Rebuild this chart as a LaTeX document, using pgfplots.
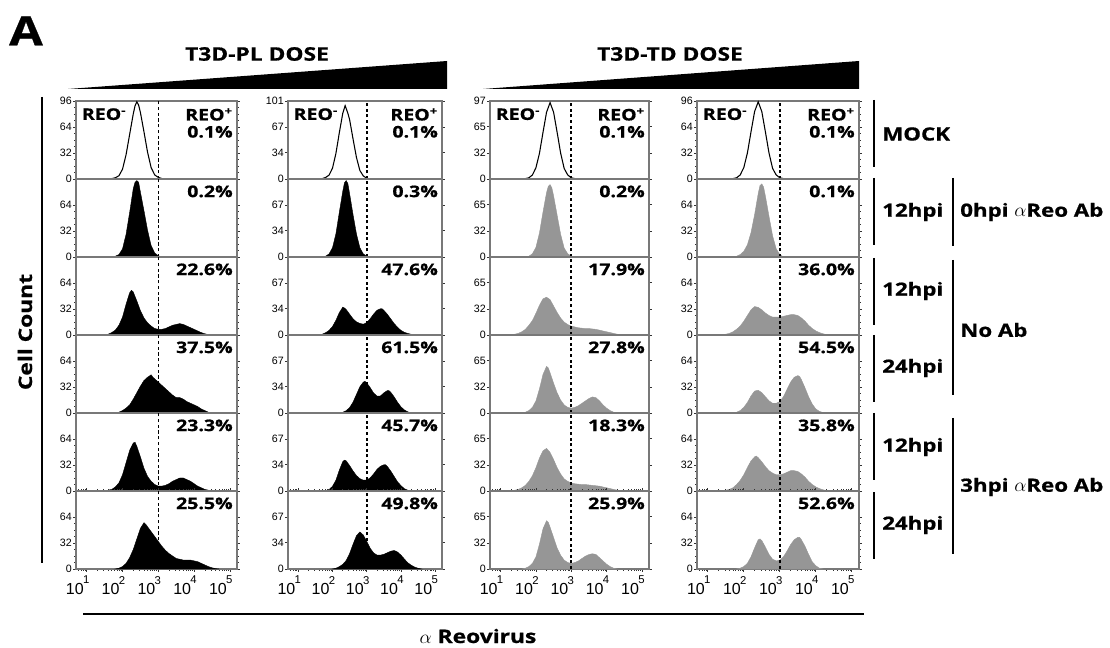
\documentclass[border=0pt]{standalone}
\usepackage{fontspec}
\setmainfont{Open Sans}[FakeStretch=1.22, BoldFeatures={FakeBold=0.8}]
\newfontfamily\arial{Liberation Sans}
\usepackage{pgfplots}
\pgfplotsset{compat=1.18}
\definecolor{hgray}{RGB}{150,150,150}
\definecolor{frm}{RGB}{120,120,120}
\newcommand{\xtl}[1]{\arial\mdseries\fontsize{12}{12}\selectfont 10\kern-0.5pt\raisebox{8pt}{\fontsize{8.5}{8.5}\selectfont #1}}
\pgfplotsset{
 panel/.style={scale only axis, height=58.5pt, xmin=0.7, xmax=5.2, ymin=0, anchor=south west,
   axis line style={draw=frm, line width=0.8pt},
   xtick=\empty, tick align=outside, major tick length=2.2pt, minor tick length=1.2pt,
   tick style={black!80, line width=0.5pt},
   minor y tick num=3,
   yticklabel style={font=\arial\mdseries\fontsize{8}{8}\selectfont, text=black, inner sep=0.8pt},
   /pgf/number format/assume math mode=true},
 bottomrow/.style={xtick={1,2,3,4,5}, xticklabels={\xtl{1},\xtl{2},\xtl{3},\xtl{4},\xtl{5}},
   minor xtick={0.778,0.845,0.903,0.954,1.301,1.477,1.602,1.699,1.778,1.845,1.903,1.954,2.301,2.477,2.602,2.699,2.778,2.845,2.903,2.954,3.301,3.477,3.602,3.699,3.778,3.845,3.903,3.954,4.301,4.477,4.602,4.699,4.778,4.845,4.903,4.954},
   xticklabel style={anchor=north east, xshift=2.2pt, yshift=-3pt, inner sep=0pt}},
 blk/.style={fill=black, draw=black, line width=0.3pt},
 gry/.style={fill=hgray, draw=hgray, line width=0.3pt},
 outl/.style={draw=black, line width=0.8pt},
 gateA/.style={black, line width=0.5pt, dash pattern=on 2.5pt off 1.8pt},
 gateB/.style={black, line width=1.2pt, dash pattern=on 2.2pt off 2pt},
}
\tikzset{pct/.style={anchor=north east, inner sep=0pt, font=\fontsize{12}{12}\selectfont\bfseries}}
\newcommand{\panel}[7]{%
 \begin{axis}[panel, at={({#1*0.75pt},{-#2*0.75pt})}, width=#3, ymax=#4, #5]
 #7
 \addplot[#6] coordinates {(3,0) (3,#4)};
 \end{axis}}
\newcommand{\reo}{%
 \node[anchor=north west, inner sep=0pt, font=\fontsize{12}{12}\selectfont\bfseries] at (rel axis cs:0.035,0.91) {REO\textsuperscript{-}};
 \node[anchor=north east, inner sep=0pt, align=right, font=\fontsize{12}{12.8}\selectfont\bfseries] at (rel axis cs:0.975,0.91) {REO\textsuperscript{+}\\0.1\%};}
\newcommand{\pc}[1]{\node[pct] at (rel axis cs:0.975,0.92) {#1};}

\begin{document}
\begin{tikzpicture}[x=0.75pt,y=-0.75pt,font=\bfseries]
\path[use as bounding box] (0,0) rectangle (1110,648);

% ---------- column 1 ----------
\panel{76}{179}{120.75pt}{96}{ytick={0,32,64,96}}{gateA}{%
 \addplot[outl] coordinates {(1.6,0) (1.7,0.5) (1.8,1.5) (1.9,4) (2.0,12) (2.1,30) (2.2,55) (2.3,80) (2.35,90) (2.4,95) (2.45,91) (2.5,82) (2.6,58) (2.7,33) (2.8,14) (2.9,5) (3.0,2) (3.1,0.5) (3.2,0)};
 \reo}
\panel{76}{257}{120.75pt}{96}{ytick={0,32,64}}{gateA}{%
 \addplot[blk] coordinates {(1.7,0) (1.8,1) (1.9,3) (2.0,10) (2.1,28) (2.2,55) (2.3,84) (2.35,92) (2.4,94) (2.45,92) (2.5,80) (2.6,57) (2.7,33) (2.8,14) (2.9,5) (3.0,1.5) (3.1,0)} \closedcycle;
 \pc{0.2\%}}
\panel{76}{335}{120.75pt}{96}{ytick={0,32,64}}{gateA}{%
 \addplot[blk] coordinates {(1.5,0) (1.6,1) (1.7,3) (1.8,6) (1.9,12) (2.0,22) (2.1,38) (2.2,52) (2.25,55) (2.3,53) (2.4,42) (2.5,30) (2.6,21) (2.7,15) (2.8,11) (2.9,8) (3.0,7) (3.1,7) (3.2,8) (3.3,10) (3.4,12) (3.5,13) (3.6,14) (3.7,13) (3.8,11) (3.9,9) (4.0,7) (4.1,5) (4.2,3) (4.3,1.5) (4.4,0.5) (4.5,0)} \closedcycle;
 \pc{22.6\%}}
\panel{76}{413}{120.75pt}{96}{ytick={0,32,64}}{gateA}{%
 \addplot[blk] coordinates {(1.8,0) (1.9,1) (2.0,3) (2.1,6) (2.2,10) (2.3,17) (2.4,25) (2.5,33) (2.6,40) (2.7,44) (2.8,47) (2.85,44) (2.9,42) (3.0,38) (3.1,34) (3.2,30) (3.3,26) (3.4,22) (3.5,19) (3.6,19) (3.7,17) (3.8,14) (3.9,12) (4.0,10) (4.1,8) (4.2,5) (4.3,3) (4.4,1) (4.5,0)} \closedcycle;
 \pc{37.5\%}}
\panel{76}{491}{120.75pt}{96}{ytick={0,32,64}}{gateA}{%
 \addplot[blk] coordinates {(1.5,0) (1.6,1) (1.7,2) (1.8,5) (1.9,10) (2.0,20) (2.1,35) (2.2,50) (2.3,59) (2.35,60) (2.4,55) (2.5,42) (2.6,28) (2.7,18) (2.8,12) (2.9,8) (3.0,6) (3.1,6) (3.2,7) (3.3,9) (3.4,12) (3.5,14) (3.6,16) (3.7,16) (3.8,14) (3.9,12) (4.0,9) (4.1,6) (4.2,4) (4.3,2) (4.4,1) (4.5,0)} \closedcycle;
 \pc{23.3\%}}
\panel{76}{569}{120.75pt}{96}{ytick={0,32,64},bottomrow}{gateA}{%
 \addplot[blk] coordinates {(1.8,0) (1.9,1) (2.0,3) (2.1,7) (2.2,14) (2.3,24) (2.4,37) (2.5,50) (2.6,57) (2.65,55) (2.7,52) (2.8,46) (2.9,40) (3.0,34) (3.1,28) (3.2,23) (3.3,19) (3.4,16) (3.5,13) (3.6,12) (3.7,11) (3.8,11) (3.9,11) (4.0,10) (4.1,9) (4.2,7) (4.3,5) (4.4,3) (4.5,1.5) (4.6,0.5) (4.7,0)} \closedcycle;
 \pc{25.5\%}}

% ---------- column 2 ----------
\panel{288}{179}{115.5pt}{101}{ytick={0,34,67,101}}{gateB}{%
 \addplot[outl] coordinates {(1.6,0) (1.7,0.5) (1.8,2) (1.9,5) (2.0,14) (2.1,33) (2.2,60) (2.3,85) (2.37,95) (2.45,85) (2.5,77) (2.6,52) (2.7,28) (2.8,11) (2.9,4) (3.0,1) (3.1,0)};
 \reo}
\panel{288}{257}{115.5pt}{101}{ytick={0,34,67}}{gateB}{%
 \addplot[blk] coordinates {(1.7,0) (1.8,1) (1.9,4) (2.0,12) (2.1,30) (2.2,58) (2.3,85) (2.35,96) (2.4,99) (2.45,95) (2.5,82) (2.6,55) (2.7,30) (2.8,12) (2.9,4) (3.0,1) (3.1,0)} \closedcycle;
 \pc{0.3\%}}
\panel{288}{335}{115.5pt}{101}{ytick={0,34,67}}{gateB}{%
 \addplot[blk] coordinates {(1.6,0) (1.7,1) (1.8,3) (1.9,6) (2.0,11) (2.1,19) (2.2,29) (2.3,36) (2.35,35) (2.4,33) (2.5,27) (2.6,21) (2.7,17) (2.8,15) (2.9,14) (3.0,16) (3.1,21) (3.2,27) (3.3,32) (3.4,34) (3.45,34) (3.5,32) (3.6,27) (3.7,21) (3.8,15) (3.9,10) (4.0,6) (4.1,3.5) (4.2,2) (4.3,1) (4.4,0)} \closedcycle;
 \pc{47.6\%}}
\panel{288}{413}{115.5pt}{101}{ytick={0,34,67}}{gateB}{%
 \addplot[blk] coordinates {(2.2,0) (2.3,1) (2.4,3) (2.5,7) (2.6,14) (2.7,24) (2.8,34) (2.9,40) (2.95,41) (3.0,39) (3.1,33) (3.2,26) (3.3,22) (3.4,22) (3.5,26) (3.6,29) (3.65,29) (3.7,27) (3.8,21) (3.9,14) (4.0,8) (4.1,4) (4.2,1.5) (4.3,0)} \closedcycle;
 \pc{61.5\%}}
\panel{288}{491}{115.5pt}{101}{ytick={0,34,67}}{gateB}{%
 \addplot[blk] coordinates {(1.8,0) (1.9,2) (2.0,6) (2.1,14) (2.2,27) (2.3,38) (2.35,40) (2.4,39) (2.5,33) (2.6,26) (2.7,20) (2.8,16) (2.9,14) (3.0,14) (3.1,17) (3.2,22) (3.3,28) (3.4,32) (3.5,34) (3.55,34) (3.6,32) (3.7,26) (3.8,19) (3.9,12) (4.0,7) (4.1,3) (4.2,1) (4.3,0)} \closedcycle;
 \pc{45.7\%}}
\panel{288}{569}{115.5pt}{101}{ytick={0,34,67},bottomrow}{gateB}{%
 \addplot[blk] coordinates {(2.0,0) (2.1,1) (2.2,3) (2.3,6) (2.4,11) (2.5,20) (2.6,32) (2.7,43) (2.8,48) (2.85,46) (2.9,44) (3.0,36) (3.1,27) (3.2,21) (3.3,18) (3.4,18) (3.5,19) (3.6,21) (3.7,23) (3.8,24) (3.9,22) (4.0,18) (4.1,13) (4.2,8) (4.3,5) (4.4,2.5) (4.5,1) (4.6,0)} \closedcycle;
 \pc{49.8\%}}

% ---------- column 3 ----------
\panel{490}{179}{119.25pt}{97}{ytick={0,32,65,97}}{gateB}{%
 \addplot[outl] coordinates {(1.6,0) (1.7,0.5) (1.8,1.5) (1.9,5) (2.0,14) (2.1,32) (2.2,58) (2.3,83) (2.4,95) (2.5,83) (2.6,58) (2.7,32) (2.8,13) (2.9,5) (3.0,1.5) (3.1,0.5) (3.2,0)};
 \reo}
\panel{490}{257}{119.25pt}{97}{ytick={0,32,65}}{gateB}{%
 \addplot[gry] coordinates {(1.7,0) (1.8,1) (1.9,4) (2.0,12) (2.1,30) (2.2,56) (2.3,80) (2.35,88) (2.4,90) (2.45,86) (2.5,76) (2.6,52) (2.7,28) (2.8,11) (2.9,4) (3.0,1) (3.1,0)} \closedcycle;
 \pc{0.2\%}}
\panel{490}{335}{119.25pt}{97}{ytick={0,32,65}}{gateB}{%
 \addplot[gry] coordinates {(1.3,0) (1.4,1) (1.5,2) (1.6,4) (1.7,7) (1.8,12) (1.9,18) (2.0,27) (2.1,37) (2.2,45) (2.3,47) (2.4,44) (2.5,36) (2.6,28) (2.7,21) (2.8,16) (2.9,13) (3.0,11) (3.1,10) (3.2,9) (3.3,8.5) (3.4,8) (3.5,8) (3.6,7.5) (3.7,7) (3.8,6) (3.9,5) (4.0,4) (4.1,3) (4.2,2) (4.3,1) (4.4,0.5) (4.5,0)} \closedcycle;
 \pc{17.9\%}}
\panel{490}{413}{119.25pt}{97}{ytick={0,32,65}}{gateB}{%
 \addplot[gry] coordinates {(1.6,0) (1.7,1) (1.8,3) (1.9,7) (2.0,15) (2.1,30) (2.2,48) (2.3,58) (2.35,56) (2.4,50) (2.5,37) (2.6,25) (2.7,16) (2.8,10) (2.9,7) (3.0,6) (3.1,7) (3.2,9) (3.3,12) (3.4,15) (3.5,18) (3.6,20) (3.7,19) (3.8,15) (3.9,10) (4.0,6) (4.1,3) (4.2,1) (4.3,0)} \closedcycle;
 \pc{27.8\%}}
\panel{490}{491}{119.25pt}{97}{ytick={0,32,65}}{gateB}{%
 \addplot[gry] coordinates {(1.3,0) (1.4,1) (1.5,2) (1.6,4) (1.7,7) (1.8,12) (1.9,19) (2.0,29) (2.1,41) (2.2,50) (2.3,53) (2.4,48) (2.5,39) (2.6,29) (2.7,21) (2.8,15) (2.9,12) (3.0,10) (3.1,9) (3.2,8.5) (3.3,8) (3.4,8) (3.5,7.5) (3.6,7) (3.7,6.5) (3.8,6) (3.9,5) (4.0,4) (4.1,3) (4.2,2) (4.3,1) (4.4,0.5) (4.5,0)} \closedcycle;
 \pc{18.3\%}}
\panel{490}{569}{119.25pt}{97}{ytick={0,32,65},bottomrow}{gateB}{%
 \addplot[gry] coordinates {(1.6,0) (1.7,1) (1.8,3) (1.9,7) (2.0,15) (2.1,31) (2.2,50) (2.3,60) (2.35,58) (2.4,52) (2.5,39) (2.6,26) (2.7,17) (2.8,11) (2.9,8) (3.0,7) (3.1,8) (3.2,10) (3.3,13) (3.4,16) (3.5,18) (3.6,19) (3.7,18) (3.8,14) (3.9,10) (4.0,6) (4.1,3) (4.2,1) (4.3,0)} \closedcycle;
 \pc{25.9\%}}

% ---------- column 4 ----------
\panel{697}{179}{121.5pt}{96}{ytick={0,32,64,96}}{gateB}{%
 \addplot[outl] coordinates {(1.6,0) (1.7,0.5) (1.8,1.5) (1.9,5) (2.0,14) (2.1,32) (2.2,58) (2.3,83) (2.4,95) (2.5,83) (2.6,58) (2.7,32) (2.8,13) (2.9,5) (3.0,1.5) (3.1,0.5) (3.2,0)};
 \reo}
\panel{697}{257}{121.5pt}{96}{ytick={0,32,64}}{gateB}{%
 \addplot[gry] coordinates {(1.7,0) (1.8,1) (1.9,3) (2.0,7) (2.1,15) (2.2,30) (2.3,52) (2.4,78) (2.45,88) (2.5,90) (2.55,86) (2.6,75) (2.7,50) (2.8,26) (2.9,10) (3.0,3) (3.1,0)} \closedcycle;
 \pc{0.1\%}}
\panel{697}{335}{121.5pt}{96}{ytick={0,32,64}}{gateB}{%
 \addplot[gry] coordinates {(1.4,0) (1.5,1) (1.6,2) (1.7,4) (1.8,7) (1.9,11) (2.0,17) (2.1,24) (2.2,31) (2.3,35) (2.4,34) (2.5,31) (2.6,27) (2.7,24) (2.8,22) (2.9,22) (3.0,22) (3.1,23) (3.2,24) (3.3,25) (3.4,25) (3.5,24) (3.6,21) (3.7,17) (3.8,12) (3.9,8) (4.0,5) (4.1,3) (4.2,1.5) (4.3,0.5) (4.4,0)} \closedcycle;
 \pc{36.0\%}}
\panel{697}{413}{121.5pt}{96}{ytick={0,32,64}}{gateB}{%
 \addplot[gry] coordinates {(1.7,0) (1.8,1) (1.9,3) (2.0,7) (2.1,13) (2.2,21) (2.3,27) (2.4,28) (2.5,25) (2.6,20) (2.7,15) (2.8,12) (2.9,12) (3.0,14) (3.1,20) (3.2,29) (3.3,38) (3.4,44) (3.5,46) (3.55,45) (3.6,41) (3.7,31) (3.8,20) (3.9,11) (4.0,5) (4.1,2) (4.2,0.5) (4.3,0)} \closedcycle;
 \pc{54.5\%}}
\panel{697}{491}{121.5pt}{96}{ytick={0,32,64}}{gateB}{%
 \addplot[gry] coordinates {(1.4,0) (1.5,1) (1.6,2) (1.7,4) (1.8,8) (1.9,13) (2.0,20) (2.1,29) (2.2,37) (2.3,42) (2.35,43) (2.4,41) (2.5,36) (2.6,30) (2.7,25) (2.8,22) (2.9,20) (3.0,20) (3.1,21) (3.2,23) (3.3,25) (3.4,25) (3.5,24) (3.6,21) (3.7,17) (3.8,12) (3.9,8) (4.0,5) (4.1,3) (4.2,1.5) (4.3,0.5) (4.4,0)} \closedcycle;
 \pc{35.8\%}}
\panel{697}{569}{121.5pt}{96}{ytick={0,32,64},bottomrow}{gateB}{%
 \addplot[gry] coordinates {(1.8,0) (1.9,1) (2.0,3) (2.1,7) (2.2,15) (2.3,26) (2.4,36) (2.45,37) (2.5,35) (2.6,27) (2.7,18) (2.8,12) (2.9,10) (3.0,11) (3.1,15) (3.2,22) (3.3,30) (3.4,36) (3.5,39) (3.55,39) (3.6,36) (3.7,28) (3.8,18) (3.9,9) (4.0,4) (4.1,1) (4.2,0)} \closedcycle;
 \pc{52.6\%}}

% ---------- annotations ----------
\node[font=\fontsize{30}{30}\selectfont\bfseries, inner sep=0pt] at (26,31) {A};
\node[font=\fontsize{14}{14}\selectfont\bfseries, inner sep=0pt] at (257,54) {T3D-PL DOSE};
\node[font=\fontsize{14}{14}\selectfont\bfseries, inner sep=0pt] at (670,54) {T3D-TD DOSE};
\fill (68,89) -- (447,89) -- (447,61) -- cycle;
\fill (483,89) -- (859,89) -- (859,61) -- cycle;
\draw[line width=2.2pt] (42,97) -- (42,563);
\node[rotate=90, font=\fontsize{14}{14}\selectfont\bfseries, inner sep=0pt] at (25,332) {Cell Count};
\draw[line width=2.2pt] (83,614) -- (864,614);
\node[font=\fontsize{14}{14}\selectfont\bfseries, inner sep=0pt] at (478,636) {$\alpha$ Reovirus};

\begin{scope}[every node/.style={anchor=west, inner sep=0pt, font=\fontsize{13.7}{13.7}\selectfont\bfseries}]
\draw[line width=2.2pt] (874,100) -- (874,167);
\node at (882,134) {MOCK};
\draw[line width=2.2pt] (874,178) -- (874,245);
\node at (882,212) {12hpi};
\draw[line width=2.2pt] (874,258) -- (874,325);
\node at (882,291) {12hpi};
\draw[line width=2.2pt] (874,335) -- (874,402);
\node at (882,368) {24hpi};
\draw[line width=2.2pt] (874,413) -- (874,480);
\node at (882,447) {12hpi};
\draw[line width=2.2pt] (874,492) -- (874,559);
\node at (882,525) {24hpi};
\draw[line width=2.2pt] (953,178) -- (953,246);
\node at (960,212) {0hpi $\alpha$Reo Ab};
\draw[line width=2.2pt] (953,260) -- (953,395);
\node at (960,330) {No Ab};
\draw[line width=2.2pt] (953,418) -- (953,554);
\node at (960,487) {3hpi $\alpha$Reo Ab};
\end{scope}
\end{tikzpicture}
\end{document}
